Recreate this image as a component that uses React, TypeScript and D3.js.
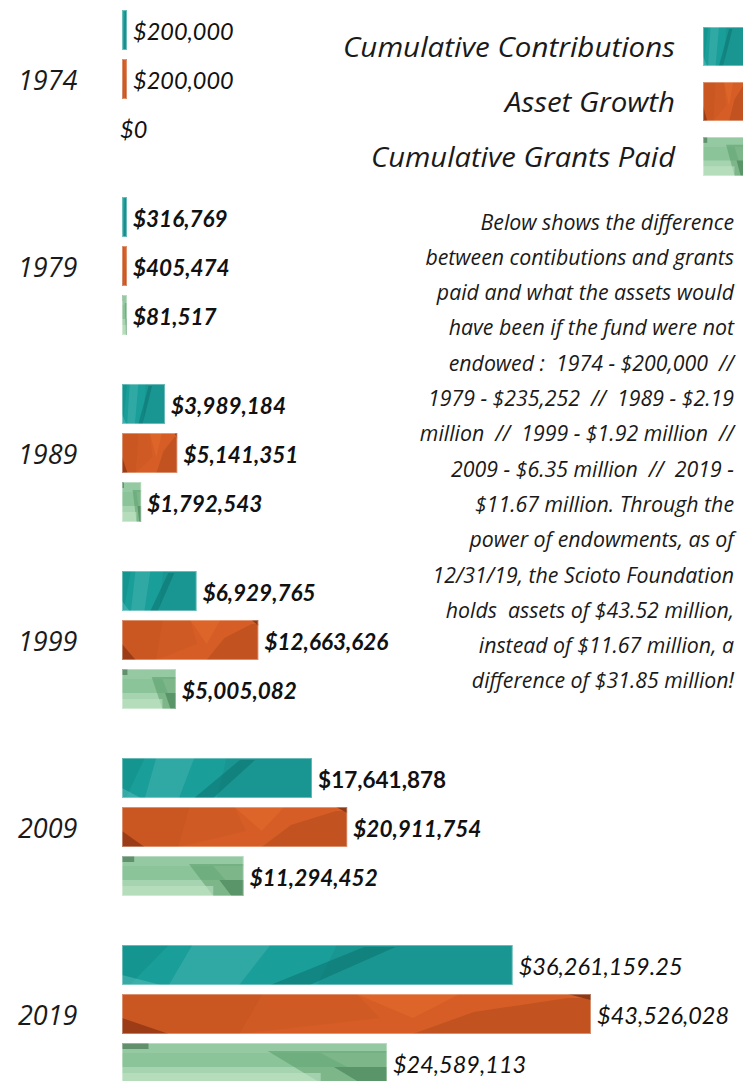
import React from "react";
import * as d3 from "d3";

const years = ["1974", "1979", "1989", "1999", "2009", "2019"];
const contributions = [200000, 316769, 3989184, 6929765, 17641878, 36261159.25];
const assetGrowth = [200000, 405474, 5141351, 12663626, 20911754, 43526028];
const grantsPaid = [0, 81517, 1792543, 5005082, 11294452, 24589113];
const seriesNames = ["Cumulative Contributions", "Asset Growth", "Cumulative Grants Paid"];
const noteLines = [
  "Below shows the difference",
  "between contibutions and grants",
  "paid and what the assets would",
  "have been if the fund were not",
  "endowed :  1974 - $200,000  //",
  "1979 - $235,252  //  1989 - $2.19",
  "million  //  1999 - $1.92 million  //",
  "2009 - $6.35 million  //  2019 -",
  "$11.67 million. Through the",
  "power of endowments, as of",
  "12/31/19, the Scioto Foundation",
  "holds  assets of $43.52 million,",
  "instead of $11.67 million, a",
  "difference of $31.85 million!",
];

const W = 743;
const H = 1081;

type Facet = { pts: [number, number][]; fill: string; op: number };
const textures: { base: string; facets: Facet[] }[] = [
  {
    base: "#1a9e9a",
    facets: [
      { pts: [[0, 0], [0.12, 0], [0.02, 1], [0, 1]], fill: "#118f8b", op: 0.6 },
      { pts: [[0.18, 0], [0.38, 0], [0.3, 1], [0.12, 1]], fill: "#45b4af", op: 0.5 },
      { pts: [[0.55, 0], [1, 0], [1, 1], [0.5, 1]], fill: "#1a8f8c", op: 0.55 },
      { pts: [[0.38, 1], [0.62, 0.05], [0.7, 0.05], [0.48, 1]], fill: "#0a6d6a", op: 0.5 },
      { pts: [[0, 0.75], [0.1, 1], [0, 1]], fill: "#5cc0bb", op: 0.5 },
    ],
  },
  {
    base: "#d65e26",
    facets: [
      { pts: [[0, 0], [0.3, 0], [0.25, 1], [0, 1]], fill: "#c4541f", op: 0.7 },
      { pts: [[0.3, 0], [0.5, 0], [0.55, 0.6], [0.25, 1]], fill: "#cc5822", op: 0.6 },
      { pts: [[0.62, 1], [0.75, 0.45], [0.95, 0.1], [1, 0.1], [1, 1]], fill: "#b94e1e", op: 0.7 },
      { pts: [[0, 0.6], [0.1, 1], [0, 1]], fill: "#8e3614", op: 0.8 },
      { pts: [[0.95, 0], [1, 0], [1, 0.15]], fill: "#7c2e10", op: 0.8 },
      { pts: [[0.5, 0], [0.72, 0], [0.62, 0.6]], fill: "#e26a2c", op: 0.6 },
    ],
  },
  {
    base: "#a6d4b0",
    facets: [
      { pts: [[0, 0], [1, 0], [1, 0.25], [0, 0.25]], fill: "#8dc59b", op: 0.7 },
      { pts: [[0, 0.25], [0.75, 0.25], [0.85, 0.6], [0, 0.6]], fill: "#7dbb8d", op: 0.65 },
      { pts: [[0.55, 0.2], [1, 0.2], [1, 1], [0.75, 1]], fill: "#5a9d69", op: 0.55 },
      { pts: [[0.8, 0.6], [1, 0.6], [1, 1], [0.9, 1]], fill: "#3d7a4c", op: 0.55 },
      { pts: [[0, 0.75], [0.75, 0.75], [0.75, 1], [0, 1]], fill: "#bfe2c4", op: 0.6 },
      { pts: [[0, 0], [0.1, 0], [0.1, 0.15], [0, 0.15]], fill: "#3f6b4a", op: 0.6 },
    ],
  },
];

function TexturedRect({ id, x, y, w, h, s }: { id: string; x: number; y: number; w: number; h: number; s: number }) {
  const t = textures[s];
  return (
    <g>
      <clipPath id={id}>
        <rect x={x} y={y} width={w} height={h} />
      </clipPath>
      <g clipPath={`url(#${id})`}>
        <rect x={x} y={y} width={w} height={h} fill={t.base} />
        {t.facets.map((f, i) => (
          <polygon
            key={i}
            points={f.pts.map(([px, py]) => `${x + px * w},${y + py * h}`).join(" ")}
            fill={f.fill}
            opacity={f.op}
          />
        ))}
      </g>
      <rect x={x + 0.5} y={y + 0.5} width={Math.max(0, w - 1)} height={h - 1} fill="none" stroke="#ffffff" strokeOpacity={0.35} />
    </g>
  );
}

export default function App() {
  const x = d3.scaleLinear().domain([0, d3.max(assetGrowth) as number]).range([122, 591]);
  const gy = d3.scalePoint<string>().domain(years).range([10, 945]);
  const rowStep = 49;
  const barH = 40;
  const series = [contributions, assetGrowth, grantsPaid];
  const fmt = (v: number) => (v % 1 !== 0 ? d3.format("$,.2f")(v) : d3.format("$,")(v));
  const legendWidths = [332, 170, 304];

  return (
    <svg width={W} height={H} style={{ position: "absolute", left: 0, top: 0, background: "#fff" }}>
      {years.map((yr, yi) => {
        const top = gy(yr) as number;
        return (
          <g key={yr}>
            <text
              x={18}
              y={top + 69}
              dominantBaseline="central"
              fontFamily="'Open Sans', sans-serif"
              fontStyle="italic"
              fontSize={27}
              fill="#1a1a1a"
            >
              {yr}
            </text>
            {series.map((vals, si) => {
              const v = vals[yi];
              const y = top + si * rowStep;
              const w = v > 0 ? Math.max(5, x(v) - x(0)) : 0;
              const bx = x(0);
              const labelX = v > 0 ? bx + w + 6 : bx - 2;
              const first = yi === 0;
              const last = yi === 5;
              const upright = yi === 4 && si === 0;
              return (
                <g key={si}>
                  {v > 0 && <TexturedRect id={`c-${yi}-${si}`} x={bx} y={y} w={w} h={barH} s={si} />}
                  <text
                    x={labelX}
                    y={y + barH / 2 + 1}
                    dominantBaseline="central"
                    fontFamily="Lato, sans-serif"
                    fontStyle={upright ? "normal" : "italic"}
                    fontWeight={first || last ? 400 : 700}
                    fontSize={first ? 23.5 : last ? 23.5 : 22.5}
                    fill="#111"
                  >
                    {fmt(v)}
                  </text>
                </g>
              );
            })}
          </g>
        );
      })}

      {seriesNames.map((name, i) => {
        const sy = 27 + i * 55;
        return (
          <g key={name}>
            <text
              x={675}
              y={sy + 19}
              textAnchor="end"
              dominantBaseline="central"
              fontFamily="'Open Sans', sans-serif"
              fontStyle="italic"
              fontSize={28}
              textLength={legendWidths[i]}
              lengthAdjust="spacingAndGlyphs"
              fill="#1a1a1a"
            >
              {name}
            </text>
            <TexturedRect id={`lg-${i}`} x={703} y={sy} w={42} h={39} s={i} />
          </g>
        );
      })}

      {noteLines.map((line, i) => (
        <text
          key={i}
          x={734}
          y={221 + i * 35.3}
          textAnchor="end"
          dominantBaseline="central"
          fontFamily="'Open Sans', sans-serif"
          fontStyle="italic"
          fontSize={21.3}
          fill="#1a1a1a"
          style={{ whiteSpace: "pre" }}
        >
          {line}
        </text>
      ))}
    </svg>
  );
}
